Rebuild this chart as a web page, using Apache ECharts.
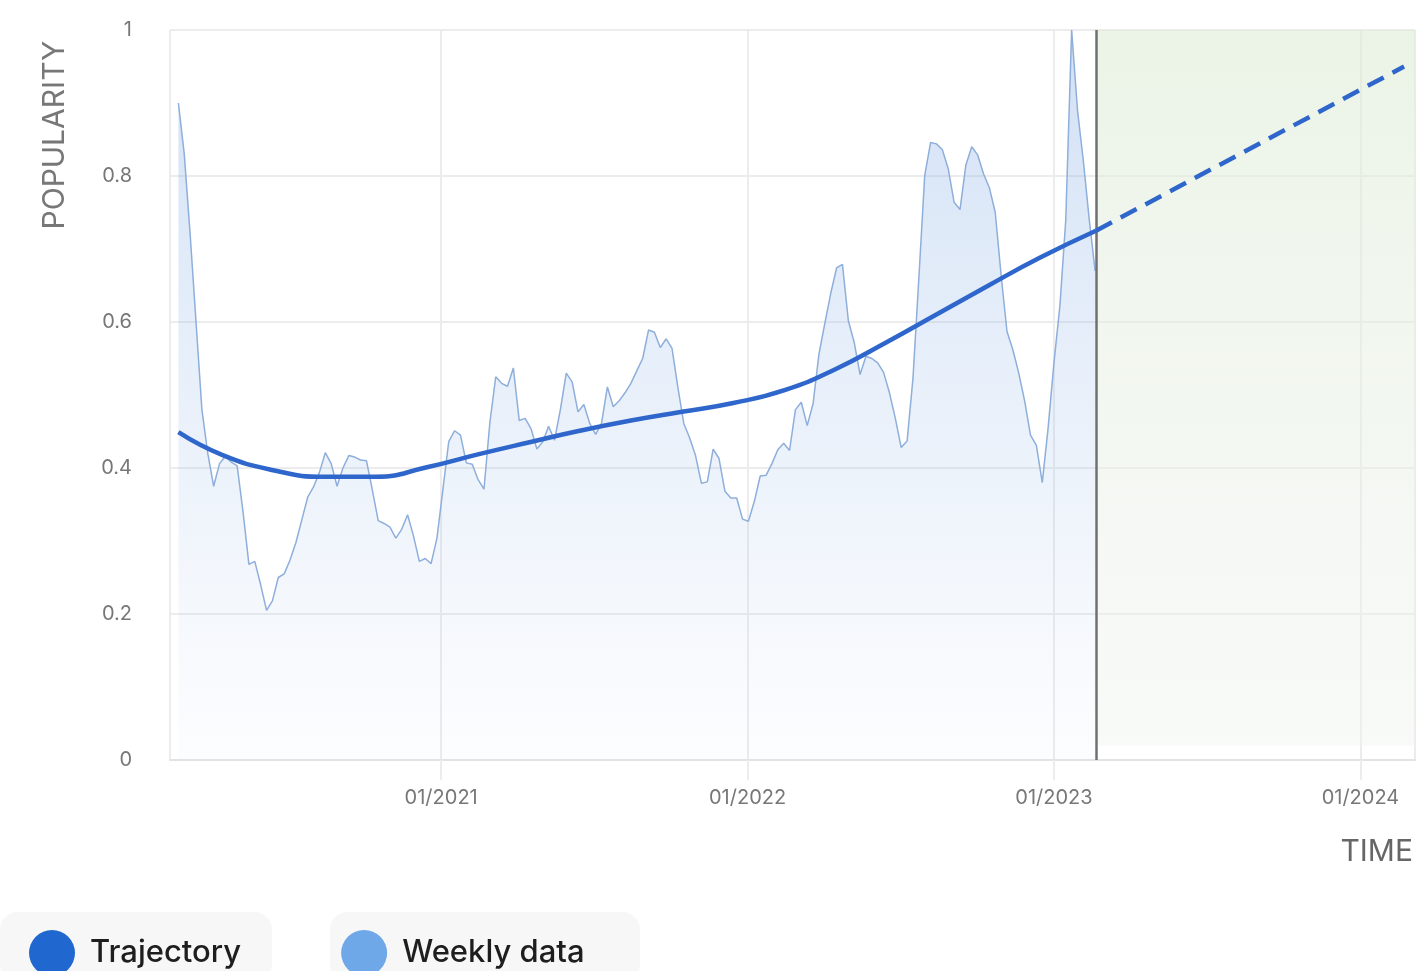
<!DOCTYPE html>
<html>
<head>
<meta charset="utf-8">
<script src="https://cdn.jsdelivr.net/npm/echarts@6/dist/echarts.min.js"></script>
<style>
  html, body { margin: 0; padding: 0; background: #fff; }
  #chart { width: 1419px; height: 971px; }
</style>
</head>
<body>
<div id="chart"></div>
<script>
// ---- data ----
const weekStart = '2020-02-23';
const weeklyValues = [
  0.90,0.83,0.72,0.60,0.48,0.42,0.375,0.406,0.416,0.408,
  0.403,0.34,0.268,0.272,0.24,0.205,0.218,0.25,0.255,0.274,
  0.298,0.329,0.36,0.374,0.394,0.421,0.406,0.375,0.40,0.417,
  0.415,0.411,0.41,0.37,0.328,0.324,0.319,0.304,0.316,0.336,
  0.307,0.272,0.276,0.269,0.304,0.37,0.436,0.451,0.445,0.407,
  0.405,0.384,0.371,0.462,0.525,0.516,0.512,0.537,0.465,0.468,
  0.454,0.426,0.436,0.457,0.438,0.48,0.53,0.518,0.477,0.487,
  0.461,0.446,0.461,0.511,0.484,0.492,0.503,0.516,0.533,0.55,
  0.589,0.586,0.565,0.577,0.564,0.51,0.461,0.441,0.417,0.379,
  0.381,0.426,0.413,0.368,0.359,0.359,0.33,0.327,0.354,0.389,
  0.39,0.406,0.425,0.434,0.424,0.48,0.49,0.458,0.488,0.556,
  0.598,0.639,0.674,0.679,0.602,0.572,0.528,0.553,0.55,0.544,
  0.531,0.503,0.468,0.428,0.437,0.523,0.66,0.801,0.846,0.844,
  0.836,0.81,0.764,0.754,0.815,0.84,0.829,0.803,0.784,0.75,
  0.664,0.587,0.562,0.53,0.492,0.445,0.431,0.38,0.455,0.545,
  0.622,0.74,1.0,0.89,0.82,0.74,0.67
];
const trajectoryDates = ['2020-02-23','2020-04-15','2020-06-15','2020-08-15','2020-10-15','2020-12-15','2021-02-15','2021-04-15','2021-06-15','2021-08-15','2021-10-15','2021-12-15','2022-02-15','2022-04-15','2022-06-15','2022-08-15','2022-10-15','2022-12-15','2023-02-20'];
const trajectoryValues = [0.449,0.418,0.397,0.388,0.388,0.401,0.419,0.435,0.451,0.465,0.477,0.489,0.507,0.535,0.572,0.611,0.650,0.688,0.725];
const forecastDates = ['2023-02-20','2024-02-22'];
const forecastValues = [0.725,0.95];
const nowDate = '2023-02-20';
const axisMin = '2020-02-13';
const axisMax = '2024-03-06';
const legendNames = ['Trajectory','Weekly data'];

// ---- build ----
const DAY = 864e5;
const startMs = new Date(weekStart + 'T00:00:00').getTime();
const weeklyData = weeklyValues.map((v, i) => [startMs + i * 7 * DAY, v]);
const trajData = trajectoryDates.map((d, i) => [d, trajectoryValues[i]]);
const foreData = forecastDates.map((d, i) => [d, forecastValues[i]]);

const FONT = 'Inter, "Open Sans", sans-serif';
const chart = echarts.init(document.getElementById('chart'));
chart.setOption({
  animation: false,
  backgroundColor: '#ffffff',
  grid: { left: 170, right: 4, top: 30, bottom: 211 },
  xAxis: {
    type: 'time',
    min: axisMin,
    max: axisMax,
    minInterval: 365 * DAY,
    maxInterval: 366 * DAY,
    axisLine: { show: true, lineStyle: { color: '#e3e3e3', width: 2 } },
    axisTick: { show: true, length: 20, lineStyle: { color: '#ececec', width: 2 } },
    splitLine: { show: true, lineStyle: { color: '#ececec', width: 2 } },
    axisLabel: {
      margin: 28,
      fontSize: 20,
      fontFamily: FONT,
      color: '#777',
      showMinLabel: false,
      showMaxLabel: false,
      formatter: function (v) {
        const d = new Date(v);
        const m = String(d.getMonth() + 1).padStart(2, '0');
        return m + '/' + d.getFullYear();
      }
    }
  },
  yAxis: {
    type: 'value',
    min: 0,
    max: 1,
    interval: 0.2,
    axisLine: { show: false },
    axisTick: { show: false },
    splitLine: { lineStyle: { color: '#ececec', width: 2 } },
    axisLabel: {
      margin: 38,
      fontSize: 20,
      fontFamily: FONT,
      color: '#777',
      formatter: function (v) { return String(Math.round(v * 10) / 10); }
    }
  },
  legend: {
    left: 24,
    top: 925,
    icon: 'circle',
    itemWidth: 46,
    itemHeight: 46,
    itemGap: 100,
    data: [
      { name: legendNames[0], itemStyle: { color: '#2167d0' } },
      { name: legendNames[1], itemStyle: { color: '#6ea8e8' } }
    ],
    textStyle: { fontSize: 31, fontWeight: 500, color: '#1e1e1e', fontFamily: FONT, padding: [0, 0, 0, 10] }
  },
  graphic: [
    { type: 'rect', z: -10, shape: { x: 0, y: 912, width: 272, height: 70, r: 18 }, style: { fill: '#f7f7f7' } },
    { type: 'rect', z: -10, shape: { x: 330, y: 912, width: 310, height: 70, r: 18 }, style: { fill: '#f7f7f7' } },
    { type: 'text', rotation: Math.PI / 2, x: 55, y: 135,
      style: { text: 'POPULARITY', fontSize: 30, fontFamily: FONT, fill: '#777', align: 'center', verticalAlign: 'middle' } },
    { type: 'text', x: 1413, y: 852,
      style: { text: 'TIME', fontSize: 30, fontFamily: FONT, fill: '#666', align: 'right', verticalAlign: 'middle' } }
  ],
  series: [
    {
      name: 'Weekly data',
      type: 'line',
      data: weeklyData,
      showSymbol: false,
      symbol: 'none',
      z: 2,
      itemStyle: { color: '#6ea8e8' },
      lineStyle: { color: '#8eaedb', width: 1.5 },
      areaStyle: {
        color: new echarts.graphic.LinearGradient(0, 0, 0, 1, [
          { offset: 0, color: 'rgba(125,168,228,0.5)' },
          { offset: 0.6, color: 'rgba(150,185,232,0.25)' },
          { offset: 1, color: 'rgba(170,195,235,0.05)' }
        ])
      },
      markLine: {
        silent: true,
        symbol: ['none', 'none'],
        label: { show: false },
        lineStyle: { color: '#707070', width: 2.5, type: 'solid' },
        data: [{ xAxis: nowDate }]
      }
    },
    {
      name: 'Trajectory',
      type: 'line',
      data: trajData,
      smooth: true,
      showSymbol: false,
      symbol: 'none',
      z: 5,
      itemStyle: { color: '#2167d0' },
      lineStyle: { color: '#2e66cb', width: 4.5 }
    },
    {
      name: 'Forecast',
      type: 'line',
      data: foreData,
      showSymbol: false,
      symbol: 'none',
      z: 5,
      lineStyle: { color: '#2e66cb', width: 4.5, type: [18, 10] },
      markArea: {
        silent: true,
        itemStyle: {
          color: new echarts.graphic.LinearGradient(0, 0, 0, 1, [
            { offset: 0, color: 'rgba(222,236,214,0.6)' },
            { offset: 1, color: 'rgba(238,242,238,0.4)' }
          ])
        },
        data: [[{ xAxis: nowDate, yAxis: 1 }, { xAxis: axisMax, yAxis: 0.02 }]]
      }
    }
  ]
});
</script>
</body>
</html>
